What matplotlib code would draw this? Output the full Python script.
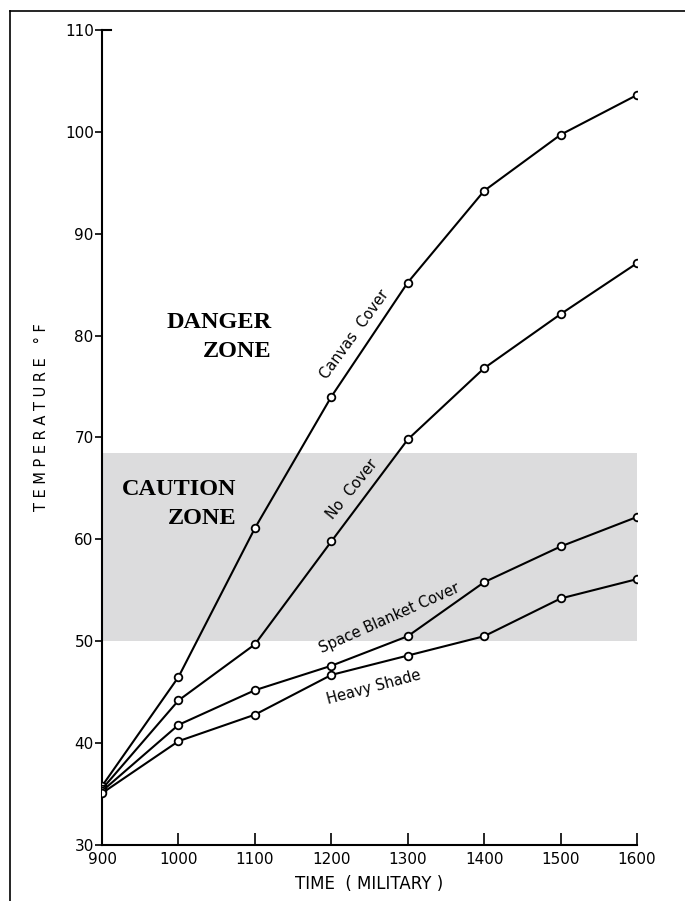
import matplotlib
matplotlib.use("Agg")
import matplotlib.pyplot as plt
from matplotlib.lines import Line2D

# data
times = [900, 1000, 1100, 1200, 1300, 1400, 1500, 1600]
canvas = [35.8, 46.5, 61.1, 74.0, 85.2, 94.2, 99.7, 103.6]
no_cover = [35.5, 44.2, 49.7, 59.8, 69.8, 76.8, 82.1, 87.1]
blanket = [35.3, 41.8, 45.2, 47.6, 50.5, 55.8, 59.3, 62.2]
shade = [35.1, 40.2, 42.8, 46.7, 48.6, 50.5, 54.2, 56.1]
caution_low, caution_high = 50, 68.5
yticks = [30, 40, 50, 60, 70, 80, 90, 100, 110]

fig = plt.figure(figsize=(6.85, 9.01), dpi=100)
ax = fig.add_axes([0.149, 0.062, 0.781, 0.905])

ax.axhspan(caution_low, caution_high, xmin=0, xmax=1, color="#dcdcdd", lw=0, zorder=0)

for ys in (canvas, no_cover, blanket, shade):
	ax.plot(times, ys, color="black", lw=1.5, marker="o", markersize=5.5,
		markerfacecolor="white", markeredgecolor="black", markeredgewidth=1.3, zorder=3)

ax.set_xlim(900, 1600)
ax.set_ylim(30, 110)
ax.set_xticks(times)
ax.set_yticks(yticks)
ax.set_xticklabels([str(t) for t in times], fontsize=11)
ax.set_yticklabels([str(v) for v in yticks], fontsize=11)
ax.tick_params(axis="x", direction="in", length=9, width=1.2, pad=5)
ax.tick_params(axis="y", direction="out", length=5, width=1.2, pad=1)

for s in ("top", "right"):
	ax.spines[s].set_visible(False)
ax.spines["left"].set_linewidth(1.5)
ax.spines["bottom"].set_linewidth(1.5)
# small cap at the top of the y axis
ax.plot([900, 912], [110, 110], color="black", lw=1.5, clip_on=False)

ax.set_ylabel("T E M P E R A T U R E   ° F", fontsize=10.5)
ax.yaxis.set_label_coords(-0.1, 0.525)
ax.set_xlabel("TIME  ( MILITARY )", fontsize=12, labelpad=6)

# zone labels
zfont = dict(family="Liberation Serif", fontweight="bold", fontsize=17.5, ha="right", va="center")
ax.text(1122, 81.3, "DANGER", **zfont)
ax.text(1122, 78.4, "ZONE", **zfont)
ax.text(1076, 64.9, "CAUTION", **zfont)
ax.text(1076, 62.0, "ZONE", **zfont)

# line labels
lfont = dict(fontsize=10.5, ha="center", va="center")
ax.text(1231, 80.1, "Canvas  Cover", rotation=54, **lfont)
ax.text(1227, 64.9, "No  Cover", rotation=51, **lfont)
ax.text(1276, 52.3, "Space Blanket Cover", rotation=24, **lfont)
ax.text(1255, 45.5, "Heavy Shade", rotation=15, **lfont)

# page frame (left and top edges)
fig.add_artist(Line2D([0.014, 0.014], [0.0, 0.988], color="black", lw=1.2, transform=fig.transFigure))
fig.add_artist(Line2D([0.014, 1.0], [0.988, 0.988], color="black", lw=1.2, transform=fig.transFigure))

fig.savefig("out.png", dpi=100)
